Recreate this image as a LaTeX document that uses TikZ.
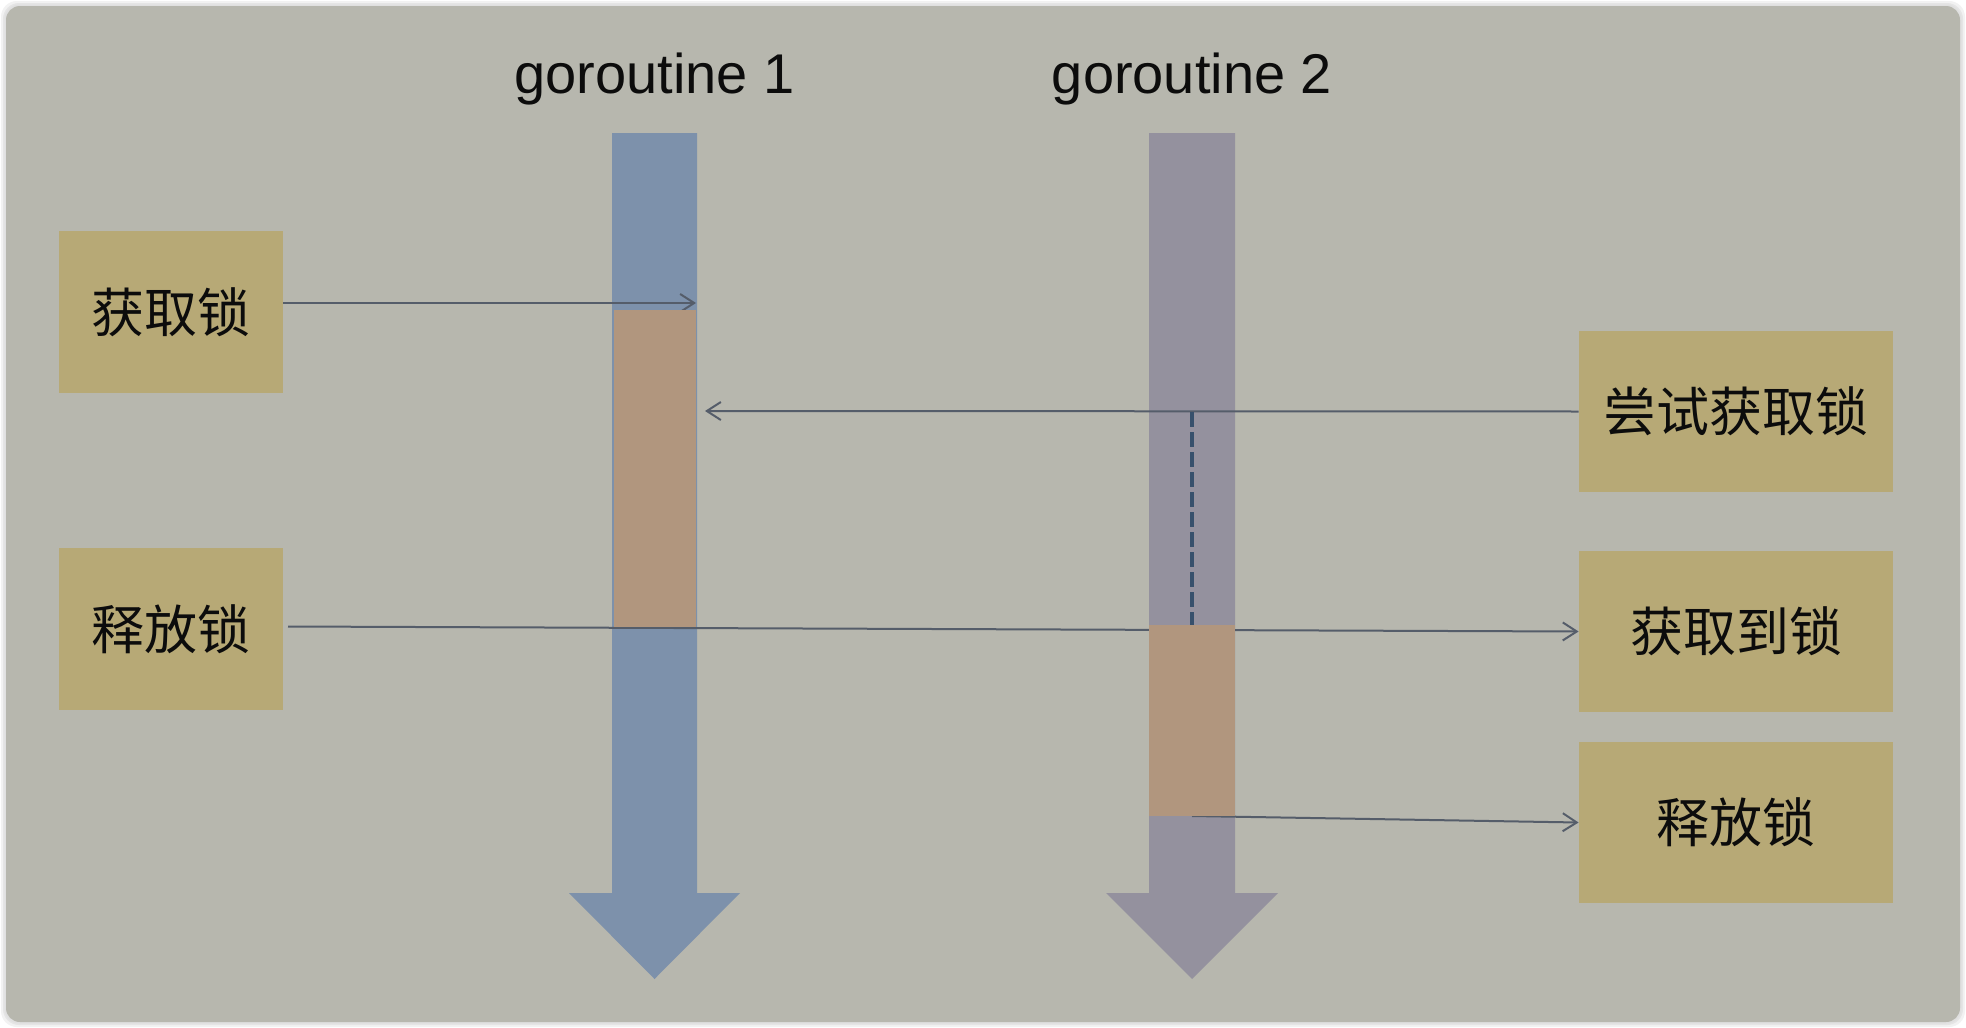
\documentclass[tikz,border=0pt]{standalone}
\usepackage{fontspec}
\setmainfont{Liberation Sans}
\newfontfamily\cjk{Noto Sans CJK SC}
\usetikzlibrary{arrows.meta}
\definecolor{bgc}{RGB}{183,183,174}
\definecolor{boxc}{RGB}{183,169,118}
\definecolor{colA}{RGB}{125,145,171}
\definecolor{colB}{RGB}{148,145,158}
\definecolor{lockc}{RGB}{177,150,126}
\definecolor{linec}{RGB}{85,93,106}
\definecolor{dashc}{RGB}{55,80,108}
\definecolor{txtc}{RGB}{12,12,12}
\begin{document}
\begin{tikzpicture}[x=0.5pt,y=-0.5pt,
  lbox/.style={fill=boxc, draw=none, inner sep=0pt, minimum width=112pt, minimum height=81pt,
    text=txtc, font=\cjk\fontsize{26.5}{30}\selectfont},
  rbox/.style={lbox, minimum width=157pt, minimum height=80.5pt},
  title/.style={anchor=base, inner sep=0pt, text=txtc, font=\fontsize{28}{32}\selectfont},
  conn/.style={draw=linec, line width=1pt, -{Straight Barb[length=7pt,width=9pt,line width=1pt]}},
  waitline/.style={draw=dashc, line width=2.3pt, dash pattern=on 7.5pt off 2.5pt}]
\useasboundingbox (0,0) rectangle (1966,1028);
\fill[white] (0,0) rectangle (1966,1028);
\fill[black!5, rounded corners=8pt] (1,1) rectangle (1965,1027);
\fill[black!10, rounded corners=8pt] (3,3) rectangle (1963,1025);
\fill[black!12, rounded corners=7.5pt] (4.5,4.5) rectangle (1961.5,1023.5);
\fill[bgc, rounded corners=7pt] (6,6) rectangle (1960,1022);

% titles
\node[title] (g1) at (654.5,93) {goroutine 1};
\node[title] (g2) at (1192,93) {goroutine 2};

% timelines
\fill[colA] (612,133) -- (697,133) -- (697,893) -- (740,893) -- (654.5,979) -- (569,893) -- (612,893) -- cycle;
\fill[colB] (1149,133) -- (1235,133) -- (1235,893) -- (1278,893) -- (1192,979) -- (1106,893) -- (1149,893) -- cycle;

% boxes
\node[lbox] (a1) at (171,312) {\raisebox{2pt}{获取锁}};
\node[lbox] (a2) at (171,629) {\raisebox{2pt}{释放锁}};
\node[rbox] (b1) at (1736,411.5) {\raisebox{2pt}{尝试获取锁}};
\node[rbox] (b2) at (1736,631.5) {\raisebox{2pt}{获取到锁}};
\node[rbox] (b3) at (1736,822.5) {\raisebox{2pt}{释放锁}};

% coordinates
\coordinate (t1) at (696,303);
\coordinate (t2) at (705,411);
\coordinate (d1) at (1192,412);
\coordinate (d2) at (1192,625);
\coordinate (s3) at (288,626.5);
\coordinate (s4) at (1192,816);

% connectors
\draw[conn] (a1.east |- t1) -- (t1);
\draw[conn] (b1.west) -- (t2);
\draw[waitline] (d1) -- (d2);
\draw[conn] (s3) -- (b2.west);
\draw[conn] (s4) -- (b3.west);

% lock held
\fill[lockc] (613.5,310) rectangle (695.5,627);
\fill[lockc] (1149,625) rectangle (1235,816);
\end{tikzpicture}
\end{document}
